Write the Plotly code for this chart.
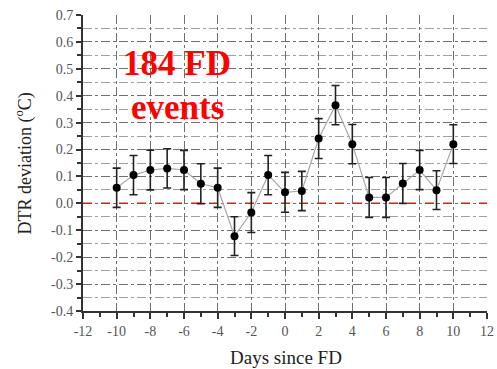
import plotly.graph_objects as go

days = [-10, -9, -8, -7, -6, -5, -4, -3, -2, -1, 0, 1, 2, 3, 4, 5, 6, 7, 8, 9, 10]
dtr_dev = [0.058, 0.105, 0.124, 0.130, 0.124, 0.073, 0.058, -0.122, -0.034, 0.105, 0.041,
           0.046, 0.241, 0.365, 0.220, 0.022, 0.022, 0.074, 0.124, 0.049, 0.220]
err = [0.073, 0.073, 0.074, 0.073, 0.073, 0.074, 0.073, 0.072, 0.074, 0.073, 0.074,
       0.073, 0.074, 0.073, 0.073, 0.074, 0.074, 0.074, 0.073, 0.072, 0.072]

x_tick_vals = [-12, -10, -8, -6, -4, -2, 0, 2, 4, 6, 8, 10, 12]
x_tick_text = ["-12", "-10", "-8", "-6", "-4", "-2", "0", "2", "4", "6", "8", "10", "12"]
y_tick_vals = [-0.4, -0.3, -0.2, -0.1, 0.0, 0.1, 0.2, 0.3, 0.4, 0.5, 0.6, 0.7]
y_tick_text = ["-0.4", "-0.3", "-0.2", "-0.1", "0.0", "0.1", "0.2", "0.3", "0.4", "0.5", "0.6", "0.7"]

serif = "Liberation Serif, Times New Roman, serif"

fig = go.Figure()
fig.add_trace(go.Scatter(
    x=[-12, 12], y=[0, 0], mode="lines",
    line=dict(color="#e8161b", width=1.5, dash="dash"),
    hoverinfo="skip", showlegend=False))
fig.add_trace(go.Scatter(
    x=days, y=dtr_dev, mode="lines+markers",
    line=dict(color="#a8a8a8", width=1.2),
    marker=dict(color="black", size=8),
    error_y=dict(type="data", array=err, visible=True, color="#222222", thickness=1.6, width=4),
    showlegend=False))

fig.add_annotation(x=-6.4, y=0.52, text="<b>184 FD</b>", showarrow=False,
                   font=dict(family=serif, size=35, color="#ff0000"))
fig.add_annotation(x=-6.4, y=0.355, text="<b>events</b>", showarrow=False,
                   font=dict(family=serif, size=35, color="#ff0000"))

# axis titles
fig.add_annotation(xref="paper", yref="paper", x=0.502, y=-0.115, yanchor="top",
                   text="Days since FD", showarrow=False,
                   font=dict(family=serif, size=19, color="#222222"))
fig.add_annotation(xref="paper", yref="paper", x=-0.145, xanchor="center", y=0.50,
                   text="DTR deviation (<sup>o</sup>C)", textangle=-90, showarrow=False,
                   font=dict(family=serif, size=18, color="#222222"))

fig.update_layout(
    width=497, height=369,
    margin=dict(l=83, r=10, t=15, b=58),
    paper_bgcolor="white", plot_bgcolor="white",
    font=dict(family=serif, color="#333333"),
    xaxis=dict(
        range=[-12, 12], tickmode="array", tickvals=x_tick_vals, ticktext=x_tick_text,
        showgrid=True, gridcolor="#707070", gridwidth=1, griddash="dashdot",
        showline=True, linecolor="#333333", linewidth=2,
        ticks="outside", ticklen=6, tickwidth=1.5, tickcolor="#333333",
        tickfont=dict(family=serif, size=14, color="#555555"),
        minor=dict(dtick=1, ticks="outside", ticklen=4, tickcolor="#333333", showgrid=False),
        zeroline=False, automargin=False,
    ),
    yaxis=dict(
        range=[-0.4, 0.7], tickmode="array", tickvals=y_tick_vals, ticktext=y_tick_text,
        showgrid=True, gridcolor="#707070", gridwidth=1, griddash="dashdot",
        showline=True, linecolor="#333333", linewidth=2,
        ticks="outside", ticklen=5, tickwidth=1.5, tickcolor="#333333",
        tickfont=dict(family=serif, size=14, color="#555555"),
        minor=dict(dtick=0.05, tick0=0.05, ticks="outside", ticklen=4, tickcolor="#333333",
                   showgrid=True, gridcolor="#a0a0a0", gridwidth=1),
        zeroline=False, automargin=False,
    ),
)

fig.write_html("out.html")
